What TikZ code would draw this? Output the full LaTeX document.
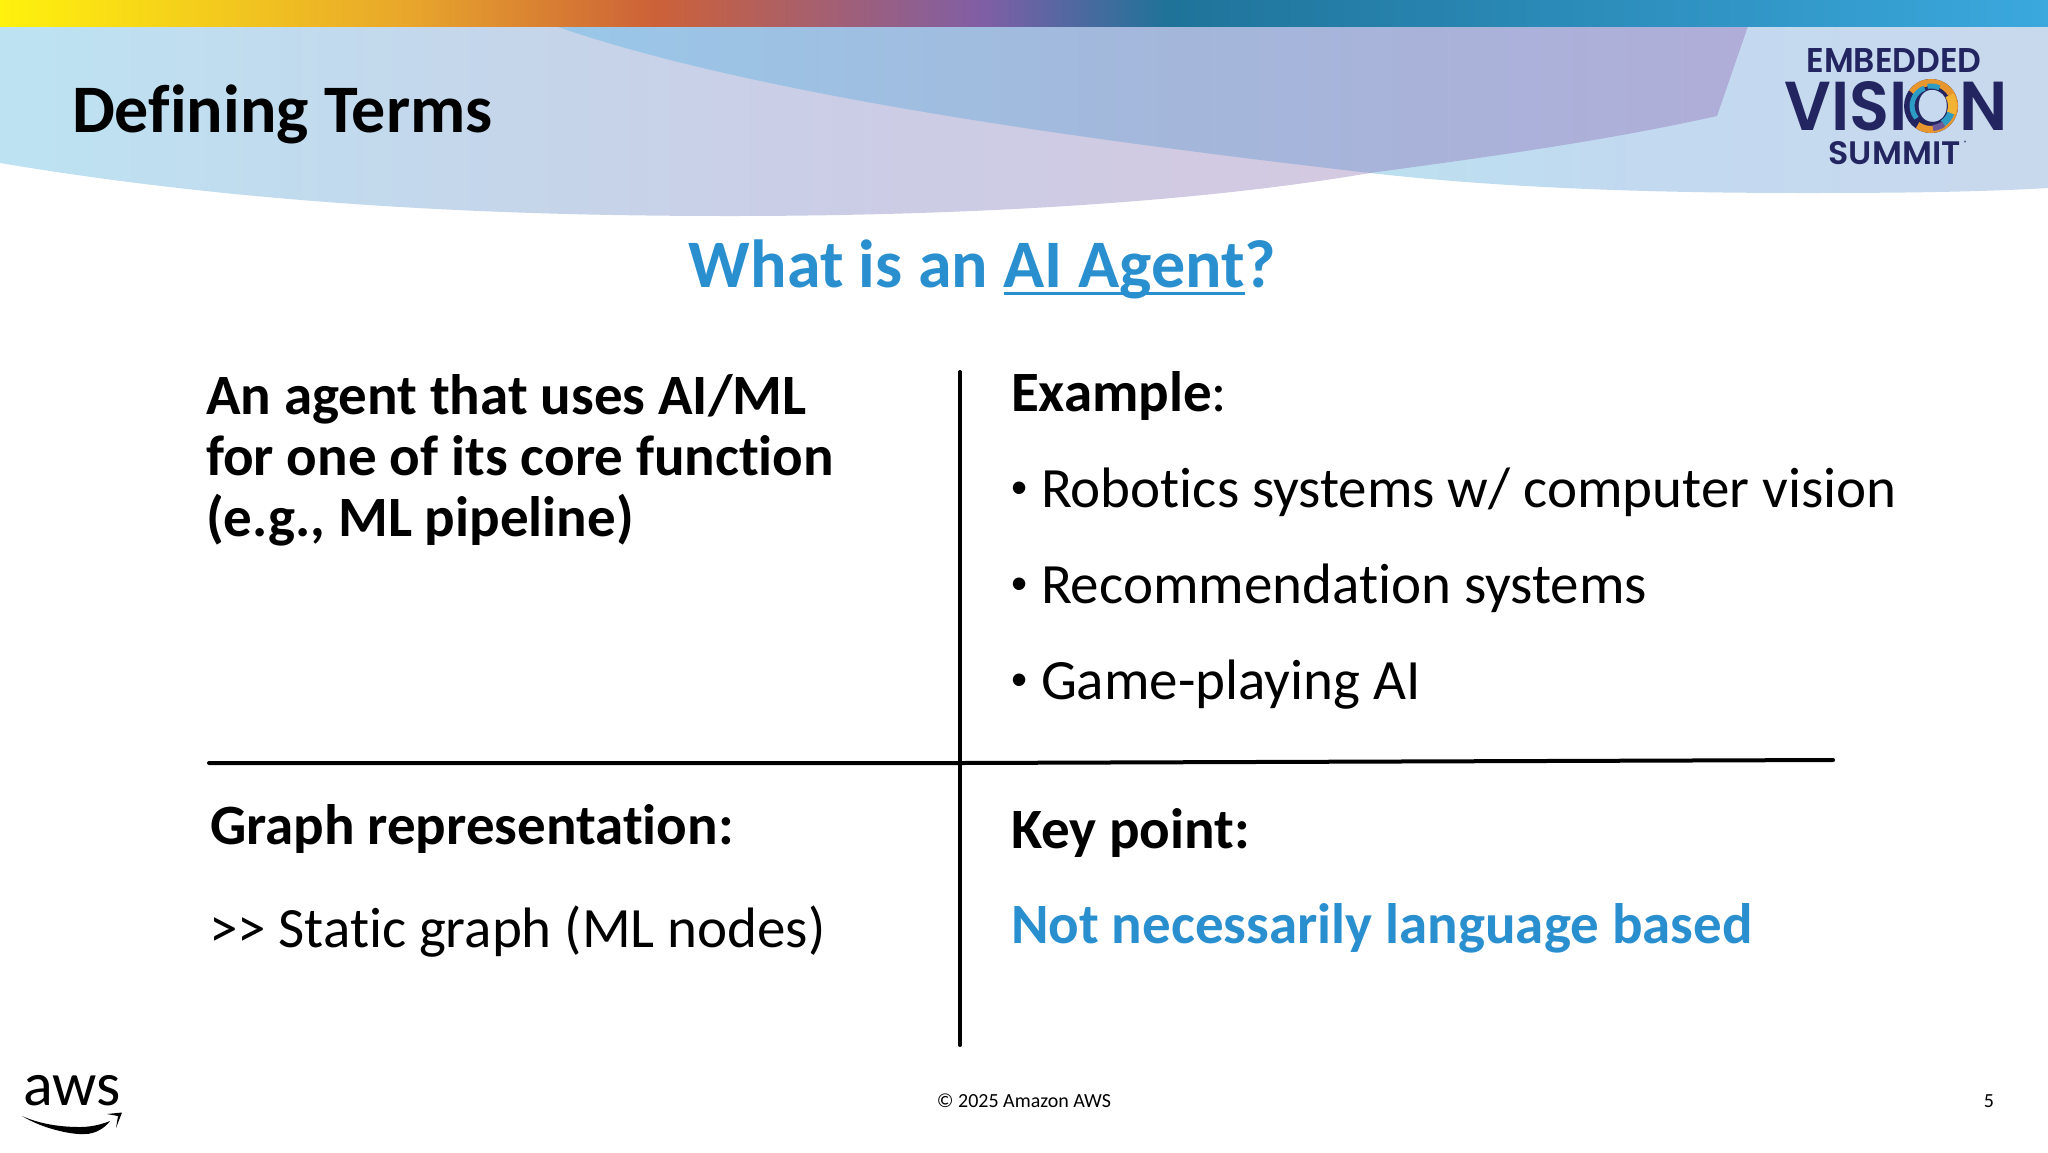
\documentclass[tikz,border=0pt]{standalone}
\usepackage{fontspec}
\setmainfont{Carlito}[Ligatures=NoCommon]
\newfontfamily\logofont{Poppins}[UprightFont=* SemiBold]
\newfontfamily\bulletfont{Liberation Sans}
\definecolor{agentblue}{HTML}{2A8FCF}
\definecolor{logonavy}{HTML}{232561}
\definecolor{ringorange}{HTML}{E8962E}
\definecolor{ringteal}{HTML}{2C9CC4}
\definecolor{ringyellow}{HTML}{F2B233}
\definecolor{ringpurple}{HTML}{6A5A9C}
\pgfdeclarehorizontalshading{barshade}{100bp}{
 rgb(0bp)=(1,0.95,0.05);
 rgb(25bp)=(1,0.95,0.05);
 rgb(35bp)=(0.91,0.65,0.17);
 rgb(41bp)=(0.80,0.38,0.22);
 rgb(49bp)=(0.50,0.37,0.65);
 rgb(53.5bp)=(0.12,0.45,0.60);
 rgb(75bp)=(0.23,0.66,0.87);
 rgb(100bp)=(0.23,0.66,0.87)}
\pgfdeclarehorizontalshading{leftshade}{100bp}{
 rgb(0bp)=(0.74,0.89,0.95);
 rgb(25bp)=(0.74,0.89,0.95);
 rgb(42.5bp)=(0.77,0.84,0.92);
 rgb(57.5bp)=(0.80,0.80,0.90);
 rgb(75bp)=(0.83,0.79,0.88);
 rgb(100bp)=(0.83,0.79,0.88)}
\pgfdeclarehorizontalshading{topshade}{100bp}{
 rgb(0bp)=(0.60,0.78,0.91);
 rgb(25bp)=(0.60,0.78,0.91);
 rgb(50bp)=(0.64,0.72,0.86);
 rgb(75bp)=(0.69,0.68,0.85);
 rgb(100bp)=(0.69,0.68,0.85)}
\pgfdeclarehorizontalshading{rightshade}{100bp}{
 rgb(0bp)=(0.74,0.88,0.94);
 rgb(25bp)=(0.74,0.88,0.94);
 rgb(45bp)=(0.76,0.85,0.94);
 rgb(75bp)=(0.79,0.85,0.93);
 rgb(100bp)=(0.79,0.85,0.93)}
\newcommand{\ulword}[1]{\setbox0\hbox{#1}\rlap{\rule[-3.8pt]{\wd0}{1.6pt}}\box0}
\tikzset{
 txt/.style={inner sep=0pt,outer sep=0pt,anchor=base west,text=black},
 bodytxt/.style={txt,font=\fontsize{28.5}{30.5}\selectfont},
 boldtxt/.style={txt,font=\fontsize{28.5}{30.7}\selectfont\bfseries},
 bullettxt/.style={txt,font=\fontsize{23}{30.5}\selectfont\bulletfont},
 rule/.style={draw=black,line width=2pt,line cap=round},
 foot/.style={inner sep=0pt,outer sep=0pt,anchor=base,font=\fontsize{10}{12}\selectfont},
 logo/.style={inner sep=0pt,outer sep=0pt,text=logonavy},
 seg/.style={line cap=butt}
}
\begin{document}
\begin{tikzpicture}[x=0.5pt,y=-0.5pt]
\useasboundingbox (0,0) rectangle (2048,1152);
\fill[white] (0,0) rectangle (2048,1152);
% banner
\shade[shading=rightshade] (1370,173) .. controls (1520,190) and (1680,193) .. (1808,193) .. controls (1900,193) and (1980,192) .. (2048,188) -- (2048,26) -- (1370,26) -- cycle;
\shade[shading=leftshade] (0,26) -- (0,163) .. controls (250,205) and (500,216) .. (730,216) .. controls (920,216) and (1170,207) .. (1370,173) -- (1370,26) -- cycle;
\shade[shading=topshade] (555,26) .. controls (740,90) and (1040,135) .. (1370,173) .. controls (1480,158) and (1600,142) .. (1717,116) -- (1748,26) -- cycle;
\shade[shading=barshade] (0,0) rectangle (2048,26);
% title
\node[txt,font=\fontsize{34}{40}\selectfont\bfseries] (title) at (72,132) {Defining Terms};
% logo
\node[logo] (embedded) at (1894,60) {\resizebox{87.5pt}{12pt}{\logofont EMBEDDED}};
\node[logo] (vision) at (1896,106.5) {\resizebox{111.5pt}{24.5pt}{\logofont VISION}};
\node[logo] (summit) at (1894.5,153.5) {\resizebox{66pt}{11.5pt}{\logofont SUMMIT}};
\node[logo,font=\fontsize{4}{4}\selectfont] (reg) at (1965,144) {*};
\coordinate (ring) at (1931,106);
\fill[logonavy,even odd rule] (ring) circle[radius=27] (ring) circle[radius=16.5];
\draw[seg,line width=3.5pt,color=ringorange] ([shift={(125:23.5)}]ring) arc[start angle=125,end angle=-145,radius=23.5,delta angle=90];
\draw[seg,line width=2.5pt,color=ringteal] ([shift={(140:19)}]ring) arc[start angle=140,delta angle=110,radius=19];
\draw[seg,line width=4.5pt,color=ringyellow] ([shift={(-30:21.5)}]ring) arc[start angle=-30,delta angle=50,radius=21.5];
\draw[seg,line width=3.5pt,color=ringteal] ([shift={(20:21)}]ring) arc[start angle=20,delta angle=35,radius=21];
\draw[seg,line width=3pt,color=ringpurple] ([shift={(55:22)}]ring) arc[start angle=55,delta angle=30,radius=22];
\draw[seg,line width=2.5pt,color=ringorange] ([shift={(-60:23)}]ring) arc[start angle=-60,delta angle=30,radius=23];
\draw[seg,line width=2.5pt,color=ringteal] ([shift={(-100:20)}]ring) arc[start angle=-100,delta angle=35,radius=20];
% heading
\node[inner sep=0pt,anchor=base,text=agentblue,font=\fontsize{34}{40}\selectfont\bfseries] (heading) at (982.5,287.5) {What is an \ulword{AI Agent}?};
% quadrants
\node[boldtxt,align=left,anchor=north west] (defn) at (206,374) {An agent that uses AI/ML\\for one of its core function\\(e.g., ML pipeline)};
\node[bodytxt] (example) at (1011,411.5) {\textbf{Example}:};
\node[bullettxt] (b1) at (1011,503.5) {•};
\node[bodytxt] (e1) at (1041,507.5) {Robotics systems w/ computer vision};
\node[bullettxt] (b2) at (1011,599) {•};
\node[bodytxt] (e2) at (1041,603) {Recommendation systems};
\node[bullettxt] (b3) at (1011,695) {•};
\node[bodytxt] (e3) at (1041,699) {Game-playing AI};
\node[boldtxt] (graph) at (210,844.5) {Graph representation:};
\node[bodytxt] (static) at (209,947) {>{}> Static graph (ML nodes)};
\node[boldtxt] (key) at (1011,848.5) {Key point:};
\node[boldtxt,text=agentblue] (notlang) at (1011,943.5) {Not necessarily language based};
% rules
\coordinate (vt) at (960,372);
\coordinate (vb) at (960,1045);
\coordinate (hl) at (209,763);
\coordinate (hm) at (960,763);
\coordinate (hr) at (1833,760);
\draw[rule] (vt) -- (vb);
\draw[rule] (hl) -- (hm) -- (hr);
% footer
\node[foot] (copy) at (1024,1107) {© 2025 Amazon AWS};
\node[foot] (page) at (1989,1107) {5};
% aws
\node[inner sep=0pt,anchor=base west,font=\fontsize{31}{36}\selectfont] (aws) at (23,1105) {aws};
\fill[black] (22,1116) .. controls (45,1130) and (75,1135) .. (85,1134) .. controls (95,1134) and (105,1128) .. (110,1121) .. controls (100,1125) and (90,1127) .. (80,1127) .. controls (60,1127) and (40,1124) .. (22,1116) -- cycle;
\fill[black] (107,1114) -- (122,1112.5) -- (116,1128) -- (118,1116) -- cycle;
\end{tikzpicture}
\end{document}
